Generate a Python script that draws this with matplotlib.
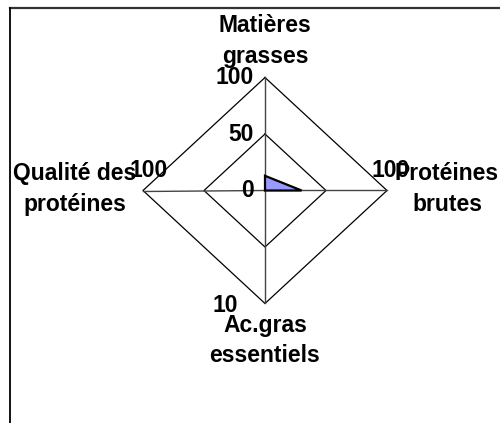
import numpy as np
import matplotlib
matplotlib.use("Agg")
import matplotlib.pyplot as plt
from matplotlib.lines import Line2D

# ---- data ----
categories = ["Matières\ngrasses", "Protéines\nbrutes", "Ac.gras\nessentiels", "Qualité des\nprotéines"]
values = [13, 30, 0, 0]
grid_levels = [50, 100]
top_ticks = [100, 50, 0]
tick_texts = ["100", "50", "0"]
other_axis_labels = ["100", "10", "100"]  # right, bottom, left

plt.rcParams['font.family'] = ['Liberation Sans', 'DejaVu Sans']
FS = 16.5

W, H = 500, 423
fig = plt.figure(figsize=(W / 100, H / 100), dpi=100)
ax = fig.add_axes([0, 0, 1, 1])
cx, cy = 265, 190.5
sx, sy = 1.22, 1.13
ax.set_xlim(-cx / sx, (W - cx) / sx)
ax.set_ylim((cy - H) / sy, cy / sy)
ax.axis('off')

angles = np.deg2rad([0, 90, 180, 270])  # clockwise from top


def pt(r, a):
    return r * np.sin(a), r * np.cos(a)


# grid diamonds
for lev in grid_levels:
    xs = [pt(lev, a)[0] for a in angles] + [pt(lev, angles[0])[0]]
    ys = [pt(lev, a)[1] for a in angles] + [pt(lev, angles[0])[1]]
    ax.plot(xs, ys, color='black', lw=0.9, zorder=2)

# spokes
for a in angles:
    x1, y1 = pt(100, a)
    ax.plot([0, x1], [0, y1], color='#444444', lw=1.0, zorder=2)

# data polygon
dx = [pt(v, a)[0] for v, a in zip(values, angles)]
dy = [pt(v, a)[1] for v, a in zip(values, angles)]
ax.fill(dx, dy, facecolor='#9999FF', edgecolor='black', lw=1.6, zorder=3)

# value labels on top axis
for t, s in zip(top_ticks, tick_texts):
    x, y = pt(t, angles[0])
    ax.annotate(s, (x, y), xytext=(-11, -6.5), textcoords='offset pixels',
                ha='right', va='baseline', fontsize=FS, fontweight='bold', zorder=4)

# labels at the other axis ends
offs = [((4, 13.5), 'center'), ((-27, -8.5), 'right'), ((5.5, 13.5), 'center')]
for s, a, (o, ha) in zip(other_axis_labels, angles[1:], offs):
    x, y = pt(100, a)
    ax.annotate(s, (x, y), xytext=o, textcoords='offset pixels',
                ha=ha, va='baseline', fontsize=FS, fontweight='bold', zorder=4)

# category labels
cat_offs = [(0, 15), (60, -20), (0, -59), (-68.5, -20)]
for s, a, o in zip(categories, angles, cat_offs):
    x, y = pt(100, a)
    ax.annotate(s, (x, y), xytext=o, textcoords='offset pixels',
                ha='center', va='baseline', fontsize=FS, fontweight='bold',
                linespacing=1.4, zorder=5)

# frame (extends beyond image on right/bottom)
fig.add_artist(Line2D([10 / W, 1.0], [1 - 8 / H, 1 - 8 / H], color='#333333', lw=1.6))
fig.add_artist(Line2D([10 / W, 10 / W], [0, 1 - 8 / H], color='black', lw=1.3))

fig.savefig("out.png", dpi=100)
